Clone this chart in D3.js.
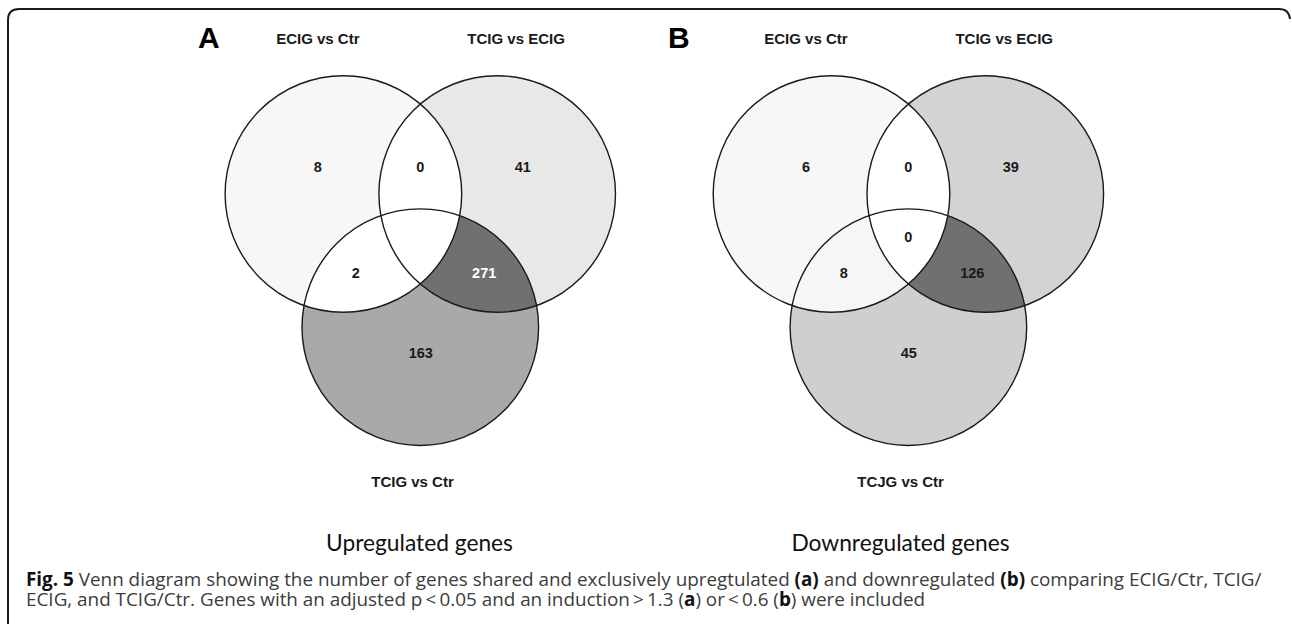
<!DOCTYPE html>
<html>
<head>
<meta charset="utf-8">
<script src="https://cdn.jsdelivr.net/npm/d3@7"></script>
<style>
  body { margin: 0; background: #fff; }
  svg { display: block; }
</style>
</head>
<body>
<div id="chart"></div>
<script>
// ── Data ───────────────────────────────────────────────────────────────────

// regions of a three-set Venn: exclusive, pairwise, triple
var regionKeys   = ['A', 'B', 'C', 'AB', 'AC', 'BC', 'ABC'];
var upCounts     = [8, 41, 163, 0, 2, 271, null];   // triple left blank in the figure
var downCounts   = [6, 39, 45, 0, 8, 126, 0];
var upSetNames   = ['ECIG vs Ctr', 'TCIG vs ECIG', 'TCIG vs Ctr'];
var downSetNames = ['ECIG vs Ctr', 'TCIG vs ECIG', 'TCJG vs Ctr'];
var panelLetters = ['A', 'B'];
var panelTitles  = ['Upregulated genes', 'Downregulated genes'];

// ── Layout (in circle-radius units) ────────────────────────────────────────

var centers = [[-0.65, 0], [0.65, 0], [0, 1.126]];
var regionPos = {
  A: [-0.866, -0.23], B: [0.866, -0.23], C: [0.004, 1.344],
  AB: [0, -0.23], AC: [-0.546, 0.668], BC: [0.54, 0.668], ABC: [0, 0.363]
};
var setLabelPos = [[-0.866, -1.268], [0.81, -1.268], [-0.066, 2.477]];

var panels = [
  { ox: 420.3, oy: 194, letterX: 198, titleX: 419.5,
    counts: upCounts, names: upSetNames,
    fills: { A: '#f7f7f7', B: '#e8e8e8', C: '#a9a9a9', AB: '#ffffff', AC: '#ffffff', BC: '#707070', ABC: '#ffffff' },
    textFill: { BC: '#ffffff' } },
  { ox: 908.4, oy: 194, letterX: 668, titleX: 900.5,
    counts: downCounts, names: downSetNames,
    fills: { A: '#f7f7f7', B: '#d3d3d3', C: '#cfcfcf', AB: '#ffffff', AC: '#f6f6f6', BC: '#707070', ABC: '#ffffff' },
    textFill: {} }
];

var W = 1292, H = 624, R = 118.3;
var sans = 'Liberation Sans, Arial, Helvetica, sans-serif';

var svg = d3.select('#chart').append('svg')
  .attr('width', W)
  .attr('height', H);

var defs = svg.append('defs');

// frame: only top and left edges are visible in the crop
svg.append('path')
  .attr('d', 'M8,' + H + ' L8,20 Q8,9 19,9 L1279,9 Q1289,9 1290,19')
  .attr('fill', 'none')
  .attr('stroke', '#1c1c1c')
  .attr('stroke-width', 2);

function fitWidth(sel, target) {
  var fs = parseFloat(sel.attr('font-size'));
  var len = sel.node().getComputedTextLength();
  sel.attr('font-size', (fs * target / len).toFixed(2));
}

var subtitles = [];

panels.forEach(function(p, pi) {
  var x = d3.scaleLinear().domain([0, 1]).range([p.ox, p.ox + R]);
  var y = d3.scaleLinear().domain([0, 1]).range([p.oy, p.oy + R]);
  var g = svg.append('g');

  var circ = centers.map(function(c) { return { cx: x(c[0]), cy: y(c[1]) }; });

  circ.forEach(function(c, i) {
    defs.append('clipPath').attr('id', 'clip' + pi + '_' + i)
      .append('circle').attr('cx', c.cx).attr('cy', c.cy).attr('r', R);
  });

  function disk(parent, i, fill) {
    return parent.append('circle')
      .attr('cx', circ[i].cx).attr('cy', circ[i].cy).attr('r', R)
      .attr('fill', fill);
  }

  // exclusive areas
  [0, 1, 2].forEach(function(i) { disk(g, i, p.fills[regionKeys[i]]); });
  // pairwise areas
  disk(g, 1, p.fills.AB).attr('clip-path', 'url(#clip' + pi + '_0)');
  disk(g, 2, p.fills.AC).attr('clip-path', 'url(#clip' + pi + '_0)');
  disk(g, 2, p.fills.BC).attr('clip-path', 'url(#clip' + pi + '_1)');
  // triple area
  var g3 = g.append('g').attr('clip-path', 'url(#clip' + pi + '_0)');
  disk(g3, 2, p.fills.ABC).attr('clip-path', 'url(#clip' + pi + '_1)');

  // outlines
  g.selectAll('circle.outline')
    .data(circ)
    .join('circle')
    .attr('class', 'outline')
    .attr('cx', function(d) { return d.cx; })
    .attr('cy', function(d) { return d.cy; })
    .attr('r', R)
    .attr('fill', 'none')
    .attr('stroke', '#1a1a1a')
    .attr('stroke-width', 1.4);

  // region counts
  g.selectAll('text.count')
    .data(regionKeys.map(function(k, i) { return { key: k, value: p.counts[i] }; })
      .filter(function(d) { return d.value !== null; }))
    .join('text')
    .attr('class', 'count')
    .attr('x', function(d) { return x(regionPos[d.key][0]); })
    .attr('y', function(d) { return y(regionPos[d.key][1]); })
    .attr('dy', '0.36em')
    .attr('text-anchor', 'middle')
    .attr('font-family', sans)
    .attr('font-weight', 'bold')
    .attr('font-size', 14.5)
    .attr('fill', function(d) { return p.textFill[d.key] || '#1a1a1a'; })
    .text(function(d) { return d.value; });

  // set names
  g.selectAll('text.setname')
    .data(p.names)
    .join('text')
    .attr('class', 'setname')
    .attr('x', function(d, i) { return x(setLabelPos[i][0]); })
    .attr('y', function(d, i) { return y(setLabelPos[i][1]); })
    .attr('text-anchor', 'middle')
    .attr('font-family', sans)
    .attr('font-weight', 'bold')
    .attr('font-size', 15)
    .attr('fill', '#1a1a1a')
    .text(function(d) { return d; });

  // panel letter
  svg.append('text')
    .attr('x', p.letterX)
    .attr('y', 48)
    .attr('font-family', sans)
    .attr('font-weight', 'bold')
    .attr('font-size', 30)
    .attr('fill', '#000')
    .text(panelLetters[pi]);

  // panel subtitle
  subtitles.push(svg.append('text')
    .attr('x', p.titleX)
    .attr('y', 551)
    .attr('text-anchor', 'middle')
    .attr('font-family', 'Lato, sans-serif')
    .attr('font-size', 22)
    .attr('fill', '#111')
    .text(panelTitles[pi]));
});

fitWidth(subtitles[0], 187);
subtitles[1].attr('font-size', subtitles[0].attr('font-size'));

// ── Caption ────────────────────────────────────────────────────────────────

var captionLines = [
  [['Fig. 5', true], [' Venn diagram showing the number of genes shared and exclusively upregtulated ', false],
   ['(a)', true], [' and downregulated ', false], ['(b)', true], [' comparing ECIG/Ctr, TCIG/', false]],
  [['ECIG, and TCIG/Ctr. Genes with an adjusted p\u2009<\u20090.05 and an induction\u2009>\u20091.3 (', false], ['a', true],
   [') or\u2009<\u20090.6 (', false], ['b', true], [') were included', false]]
];
var captionY = [586, 606];

var cap = captionLines.map(function(line, li) {
  var t = svg.append('text')
    .attr('x', 26)
    .attr('y', captionY[li])
    .attr('font-family', '"Open Sans", sans-serif')
    .attr('font-size', 16)
    .attr('fill', '#3c3c3c');
  t.selectAll('tspan')
    .data(line)
    .join('tspan')
    .attr('font-weight', function(d) { return d[1] ? 'bold' : null; })
    .attr('fill', function(d) { return d[1] ? '#111' : null; })
    .text(function(d) { return d[0]; });
  return t;
});
fitWidth(cap[0], 1237);
cap[1].attr('font-size', cap[0].attr('font-size'));
</script>
</body>
</html>
